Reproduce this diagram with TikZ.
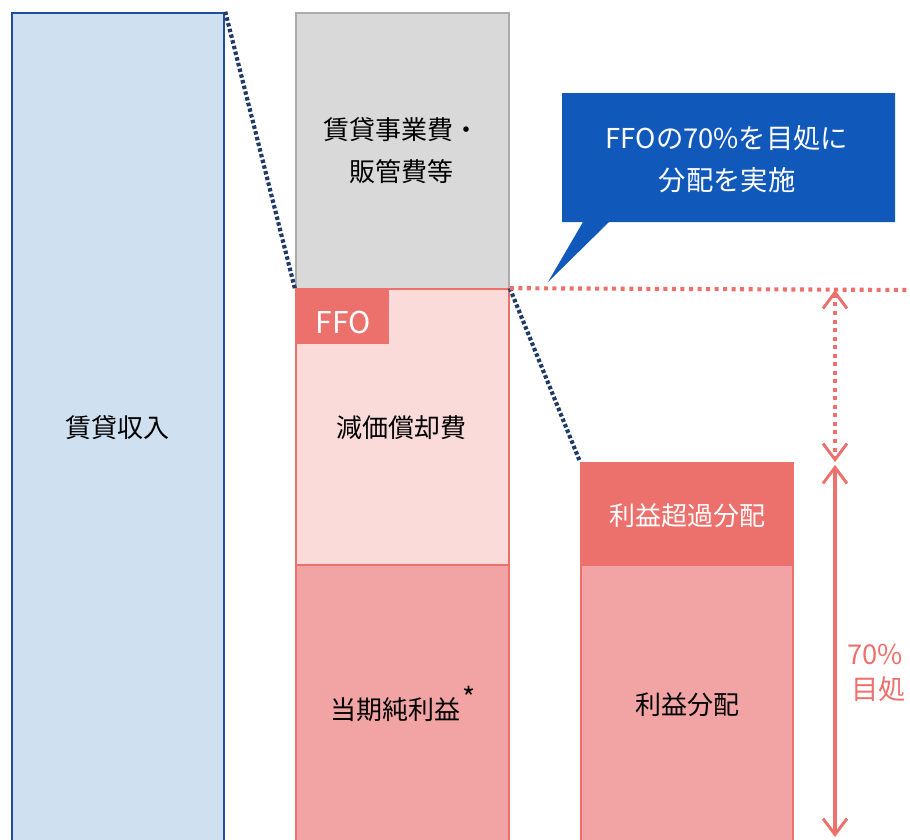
\documentclass[tikz,border=0pt]{standalone}
\usepackage{fontspec}
\setmainfont{Noto Sans CJK JP}
\usetikzlibrary{arrows.meta,fit}
\definecolor{revfill}{HTML}{CFE0F1}
\definecolor{revline}{HTML}{1F4E9F}
\definecolor{costfill}{HTML}{D9D9D9}
\definecolor{costline}{HTML}{ABABAB}
\definecolor{lpink}{HTML}{FADBD9}
\definecolor{mpink}{HTML}{F2A3A3}
\definecolor{ered}{HTML}{EC706C}
\definecolor{callblue}{HTML}{1158BB}
\definecolor{navy}{HTML}{1F3A68}
\tikzset{
  box/.style={inner sep=0pt, line width=1.2pt},
  lbl/.style={font=\fontsize{19.5pt}{31.5pt}\selectfont, text=black, align=center},
  wlbl/.style={font=\fontsize{19.5pt}{24pt}\selectfont, text=white, align=center},
  navydots/.style={navy, line width=3.1pt, dash pattern=on 2.6pt off 1.8pt},
  reddots/.style={ered, line width=3.1pt, dash pattern=on 3pt off 3.4pt},
  >={Straight Barb[length=12pt, width=18pt, line width=2.2pt]},
}
\begin{document}
\begin{tikzpicture}[x=0.75pt,y=-0.75pt]
\useasboundingbox (0,0) rectangle (910,839);
\clip (0,0) rectangle (910,839);
% corner coordinates
\coordinate (r1) at (12,13); \coordinate (r2) at (224,900);
\coordinate (c1) at (296,13); \coordinate (c2) at (509,289);
\coordinate (d1) at (296,289); \coordinate (d2) at (509,565);
\coordinate (n1) at (296,565); \coordinate (n2) at (509,900);
\coordinate (f1) at (296,289); \coordinate (f2) at (389,344);
\coordinate (e1) at (581,463); \coordinate (e2) at (793,565);
\coordinate (p1) at (581,565); \coordinate (p2) at (793,900);
% boxes
\node[box, fit=(r1)(r2), draw=revline, fill=revfill, line width=1.9pt] (rev) {};
\node[box, fit=(c1)(c2), draw=costline, fill=costfill] (cost) {};
\node[box, fit=(d1)(d2), draw=ered, fill=lpink] (dep) {};
\node[box, fit=(n1)(n2), draw=ered, fill=mpink] (net) {};
\node[box, fit=(f1)(f2), fill=ered] (ffo) {};
\node[box, fit=(e1)(e2), draw=ered, fill=ered] (excess) {};
\node[box, fit=(p1)(p2), draw=ered, fill=mpink] (profit) {};
% labels
\node[lbl] (revt) at (117,428) {賃貸収入};
\node[lbl] (costt) at (401,151) {賃貸事業費・\\販管費等};
\node[lbl] (dept) at (401,428) {減価償却費};
\node[lbl] (nett) at (403,704) {当期純利益\kern2pt\raisebox{0.42em}{\fontsize{21pt}{21pt}\selectfont *}};
\node[font=\fontsize{22.5pt}{24pt}\selectfont, text=white] (ffot) at (343,322) {FFO};
\node[wlbl] (excesst) at (687,516) {利益超過分配};
\node[lbl] (profitt) at (687,705) {利益分配};
% callout
\fill[callblue] (562,93) -- (895,93) -- (895,222) -- (609,222) -- (548,282) -- (583,222) -- (562,222) -- cycle;
\node[font=\fontsize{20.5pt}{31.5pt}\selectfont, text=white, align=center] (callt) at (727,159) {FFOの70\%を目処に\\分配を実施};
% connectors
\draw[navydots] (rev.north east) -- (cost.south west);
\draw[navydots] (dep.north east) -- (excess.north west);
\coordinate (redend) at (912,290);
\draw[reddots] (dep.north east) -- (redend);
\coordinate (a1) at (835,290);
\coordinate (a2) at (835,462);
\coordinate (b1) at (835,465);
\coordinate (b2) at (835,837);
\draw[reddots, line width=2.6pt, <->] (a1) -- (a2);
\draw[ered, line width=2.6pt, <->] (b1) -- (b2);
\node[anchor=west, font=\fontsize{20.5pt}{24pt}\selectfont, text=ered, inner sep=0pt] (pct) at (847,654) {70\%};
\node[anchor=west, font=\fontsize{20.5pt}{24pt}\selectfont, text=ered, inner sep=0pt] (mado) at (851,689) {目処};
\end{tikzpicture}
\end{document}
